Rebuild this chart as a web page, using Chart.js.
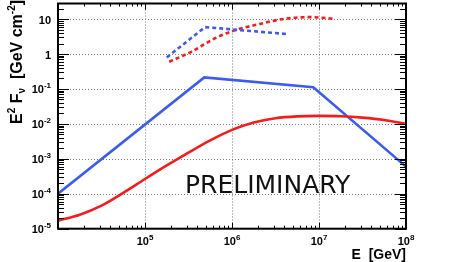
<!DOCTYPE html>
<html>
<head>
  <script src="https://cdn.jsdelivr.net/npm/chart.js"></script>
  <style>
    body { margin: 0; background-color: #ffffff; }
    #caixa { width: 463px; height: 262px; }
  </style>
</head>
<body>
  <div id="caixa"><canvas id="grafico" width="463" height="262"></canvas></div>
  <script>
    // E [GeV] and E^2 F_nu [GeV cm^-2]
    var azulE = [1e4, 4.8e5, 8.6e6, 1e8];
    var azulF = [1e-4, 0.215, 0.112, 6e-4];

    var vermelhoE = [1e4, 1.78e4, 3.16e4, 5.62e4, 1e5, 1.78e5, 3.16e5, 5.62e5, 1e6, 1.78e6, 3.16e6, 5.62e6, 1e7, 1.78e7, 3.16e7, 5.62e7, 1e8];
    var vermelhoF = [1.7e-5, 2.51e-5, 4.57e-5, 1.06e-4, 2.65e-4, 6.46e-4, 1.51e-3, 3.39e-3, 6.76e-3, 1.10e-2, 1.45e-2, 1.64e-2, 1.70e-2, 1.66e-2, 1.51e-2, 1.29e-2, 1.0e-2];

    var azulTracoE = [1.78e5, 4.9e5, 4.5e6];
    var azulTracoF = [0.8, 5.9, 3.7];

    var vermelhoTracoE = [1.9e5, 3.4e5, 6.5e5, 1e6, 2.1e6, 4e6, 8e6, 1.5e7];
    var vermelhoTracoF = [0.6, 1.16, 2.9, 4.5, 7.3, 10.2, 11.4, 10.2];

    var xTicks = [1e5, 1e6, 1e7, 1e8];
    var xRotulos = ["10^5", "10^6", "10^7", "10^8"];
    var yTicks = [1e-5, 1e-4, 1e-3, 1e-2, 1e-1, 1, 10];
    var yRotulos = ["10^-5", "10^-4", "10^-3", "10^-2", "10^-1", "1", "10"];

    var AZUL = "#3c5cf0";
    var VERMELHO = "#f51c1c";

    function pontos(xs, ys) {
      return xs.map(function (x, i) { return { x: x, y: ys[i] }; });
    }

    var fonte = '"Liberation Sans", Arial, sans-serif';

    // draws "10^-1" style labels with a raised exponent
    function potencia(ctx, txt, x, y, alinhar) {
      var partes = txt.split("^");
      var base = partes[0], exp = partes[1] || "";
      ctx.font = "bold 11px " + fonte;
      var wb = ctx.measureText(base).width;
      ctx.font = "bold 8px " + fonte;
      var we = exp ? ctx.measureText(exp).width : 0;
      var x0 = alinhar === "right" ? x - wb - we : x - (wb + we) / 2;
      ctx.textAlign = "left";
      ctx.font = "bold 11px " + fonte;
      ctx.fillText(base, x0, y);
      if (exp) {
        ctx.font = "bold 8px " + fonte;
        ctx.fillText(exp, x0 + wb, y - 5);
      }
    }

    // pieces of a title: [text, 0 normal, 1 superscript, -1 subscript]
    function largura(ctx, pecas, tam) {
      var w = 0;
      pecas.forEach(function (p) {
        ctx.font = "bold " + (p[1] ? Math.round(tam * 0.64) : tam) + "px " + fonte;
        w += ctx.measureText(p[0]).width;
      });
      return w;
    }

    function titulo(ctx, pecas, x, y, tam) {
      var cx = x;
      pecas.forEach(function (p) {
        ctx.font = "bold " + (p[1] ? Math.round(tam * 0.64) : tam) + "px " + fonte;
        var dy = p[1] === 1 ? -tam * 0.42 : (p[1] === -1 ? tam * 0.2 : 0);
        ctx.fillText(p[0], cx, y + dy);
        cx += ctx.measureText(p[0]).width;
      });
    }

    var eixos = {
      id: "eixos",
      beforeDatasetsDraw: function (chart) {
        var ctx = chart.ctx, a = chart.chartArea;
        var sx = chart.scales.x, sy = chart.scales.y;
        ctx.save();
        ctx.strokeStyle = "#7a7a7a";
        ctx.lineWidth = 1;
        ctx.setLineDash([1, 2]);
        ctx.beginPath();
        xTicks.forEach(function (v) {
          if (v >= sx.max) return;
          var px = Math.round(sx.getPixelForValue(v)) + 0.5;
          ctx.moveTo(px, a.top); ctx.lineTo(px, a.bottom);
        });
        yTicks.forEach(function (v) {
          if (v <= sy.min) return;
          var py = Math.round(sy.getPixelForValue(v)) + 0.5;
          ctx.moveTo(a.left, py); ctx.lineTo(a.right, py);
        });
        ctx.stroke();
        ctx.restore();
      },
      afterDraw: function (chart) {
        var ctx = chart.ctx, a = chart.chartArea;
        var sx = chart.scales.x, sy = chart.scales.y;
        ctx.save();
        ctx.strokeStyle = "#000";
        ctx.fillStyle = "#000";
        ctx.lineWidth = 1;
        ctx.beginPath();
        for (var d = -6; d <= 8; d++) {
          for (var m = 1; m <= 9; m++) {
            var v = m * Math.pow(10, d);
            if (d >= 4 && v >= sx.min && v <= sx.max) {
              var px = Math.round(sx.getPixelForValue(v)) + 0.5;
              var lx = m === 1 ? 6 : 3;
              ctx.moveTo(px, a.bottom); ctx.lineTo(px, a.bottom - lx);
              ctx.moveTo(px, a.top); ctx.lineTo(px, a.top + lx);
            }
            if (d <= 1 && v >= sy.min && v <= sy.max) {
              var py = Math.round(sy.getPixelForValue(v)) + 0.5;
              var ly = m === 1 ? 11 : 6;
              ctx.moveTo(a.left, py); ctx.lineTo(a.left + ly, py);
              ctx.moveTo(a.right, py); ctx.lineTo(a.right - ly, py);
            }
          }
        }
        ctx.stroke();
        ctx.lineWidth = 2;
        ctx.strokeRect(a.left, a.top, a.right - a.left, a.bottom - a.top);

        ctx.textBaseline = "alphabetic";
        xTicks.forEach(function (v, i) {
          potencia(ctx, xRotulos[i], sx.getPixelForValue(v), a.bottom + 16, "center");
        });
        yTicks.forEach(function (v, i) {
          potencia(ctx, yRotulos[i], a.left - 7, sy.getPixelForValue(v) + 4.5, "right");
        });

        var tx = [["E  [GeV]", 0]];
        titulo(ctx, tx, a.right - largura(ctx, tx, 14), 259, 14);

        var ty = [["E", 0], ["2", 1], [" F", 0], ["\u03bd", -1], ["  [GeV cm", 0], ["-2", 1], ["]", 0]];
        ctx.translate(22, 62);
        ctx.rotate(-Math.PI / 2);
        titulo(ctx, ty, -largura(ctx, ty, 16) / 2, 0, 16);
        ctx.restore();

        ctx.save();
        ctx.fillStyle = "#111";
        ctx.font = '25px "DejaVu Sans", sans-serif';
        ctx.textAlign = "left";
        ctx.fillText("PRELIMINARY", 185, 193.3);
        ctx.restore();
      }
    };

    var ctx = document.getElementById("grafico").getContext("2d");
    var chart = new Chart(ctx, {
      type: "line",
      data: {
        datasets: [
          { data: pontos(vermelhoE, vermelhoF), borderColor: VERMELHO, borderWidth: 2.6, cubicInterpolationMode: "monotone" },
          { data: pontos(azulE, azulF), borderColor: AZUL, borderWidth: 2.6, tension: 0 },
          { data: pontos(azulTracoE, azulTracoF), borderColor: AZUL, borderWidth: 2.6, borderDash: [4, 3], tension: 0 },
          { data: pontos(vermelhoTracoE, vermelhoTracoF), borderColor: VERMELHO, borderWidth: 2.6, borderDash: [4, 3], cubicInterpolationMode: "monotone" }
        ]
      },
      options: {
        responsive: false,
        animation: false,
        events: [],
        elements: { point: { radius: 0 } },
        layout: { padding: { left: 58, right: 57, top: 3.5, bottom: 33.3 } },
        plugins: { legend: { display: false }, tooltip: { enabled: false } },
        scales: {
          x: {
            type: "logarithmic", min: 1e4, max: 1e8,
            ticks: { display: false },
            grid: { display: false, drawTicks: false },
            border: { display: false }
          },
          y: {
            type: "logarithmic", min: 1e-5, max: 28,
            ticks: { display: false },
            grid: { display: false, drawTicks: false },
            border: { display: false }
          }
        }
      },
      plugins: [eixos]
    });
  </script>
</body>
</html>
